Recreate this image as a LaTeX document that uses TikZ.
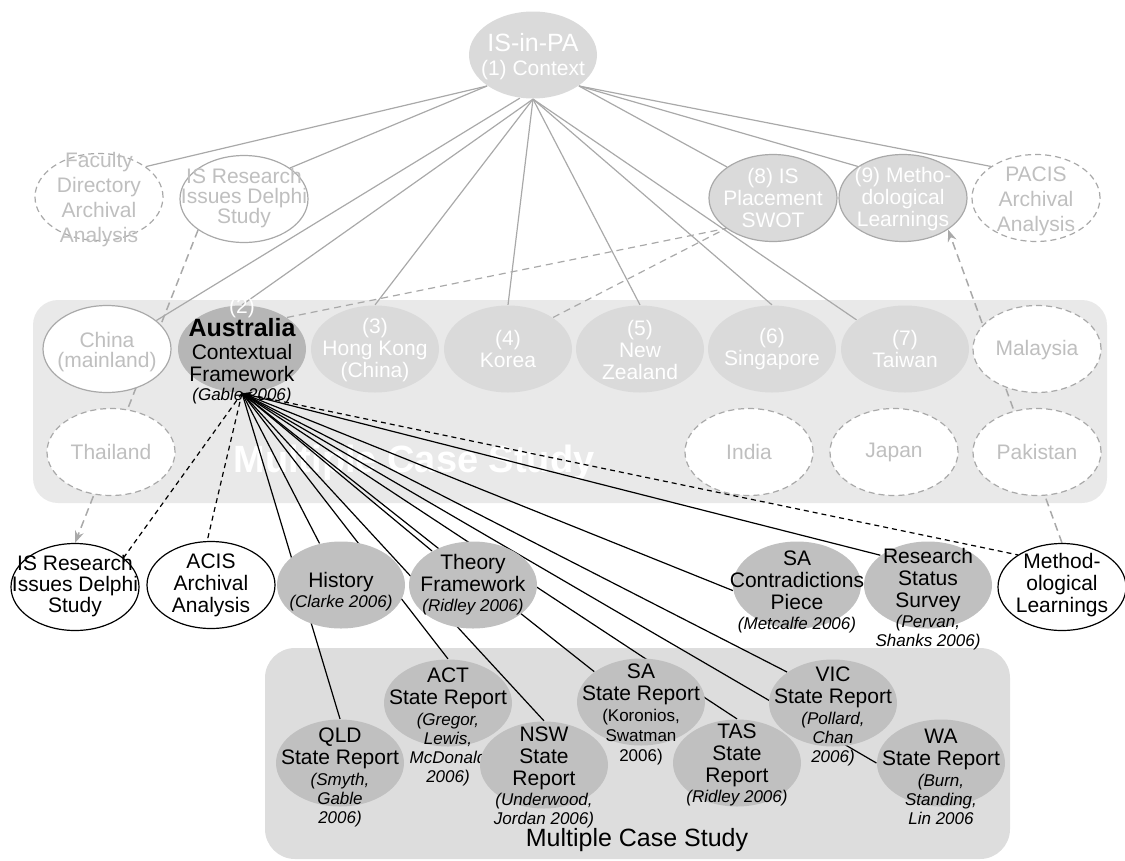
\documentclass[tikz,border=0pt]{standalone}
\usepackage{fontspec}
\setmainfont{Liberation Sans}
\usetikzlibrary{arrows.meta,shapes.geometric}
\pgfdeclarelayer{bg}
\pgfdeclarelayer{edges}
\pgfsetlayers{bg,edges,main}
\definecolor{lgray}{HTML}{A9A9A9}
\definecolor{tgray}{HTML}{BFBFBF}
\definecolor{bandA}{HTML}{E9E9E9}
\definecolor{bandB}{HTML}{DDDDDD}
\definecolor{fillA}{HTML}{DADADA}
\definecolor{fillB}{HTML}{C0C0C0}
\newcommand\cit[1]{{\fontsize{17}{18}\selectfont\itshape #1}}
\begin{document}
\begin{tikzpicture}[x=1pt,y=-1pt,
  el/.style={ellipse, minimum width=128pt, minimum height=87pt, inner sep=0pt, line width=1.2pt},
  ghost/.style={el, draw=lgray, dash pattern=on 6pt off 4pt, fill=white},
  pale/.style={el, draw=lgray, fill=white},
  soft/.style={el, fill=fillA},
  softb/.style={el, fill=fillA, draw=lgray},
  dark/.style={el, fill=fillB},
  wht/.style={el, draw=black, fill=white},
  tx/.style={align=center, inner sep=0pt, font=\fontsize{21}{22}\selectfont},
  gtx/.style={tx, text=tgray},
  wtx/.style={tx, text=white},
  gline/.style={draw=lgray, line width=1.2pt},
  gdashln/.style={draw=lgray, line width=1.2pt, dash pattern=on 7pt off 5pt},
  gdash/.style={draw=lgray, line width=1.5pt, dash pattern=on 8pt off 5pt, -{Stealth[length=12pt,width=9pt]}},
  bline/.style={draw=black, line width=1.2pt},
  bdash/.style={draw=black, line width=1.2pt, dash pattern=on 5pt off 4pt},
]
\useasboundingbox (0,0) rectangle (1125,860);
\begin{pgfonlayer}{bg}
\fill[bandA, rounded corners=25pt] (33,300) rectangle (1107,503);
\fill[bandB, rounded corners=30pt] (265,648) rectangle (1010,859);
\node[font=\fontsize{38}{38}\selectfont\bfseries, text=white, inner sep=0pt] (mcs1) at (414,463) {Multiple Case Study};
\node[font=\fontsize{25}{25}\selectfont, inner sep=0pt] (mcs2) at (637,840) {Multiple Case Study};
\end{pgfonlayer}

% ---- top
\node[el, fill=fillA] (isinpa) at (533,55) {};
\node[wtx] (isinpa-t) at (533,57) {{\fontsize{25}{25}\selectfont IS-in-PA}\\[2pt](1) Context};
\node[ghost] (faculty) at (99,197) {};
\node[gtx] (faculty-t) at (99,200) {Faculty\\[3pt]Directory\\[3pt]Archival\\[3pt]Analysis};
\node[pale] (isres1) at (244,199) {};
\node[gtx] (isres1-t) at (244,198) {IS Research\\[-2pt]Issues Delphi\\[-2pt]Study};
\node[softb] (ip8) at (773,198) {};
\node[wtx] (ip8-t) at (773,198) {(8) IS\\Placement\\SWOT};
\node[softb] (ip9) at (903,198) {};
\node[wtx] (ip9-t) at (903,199) {(9) Metho-\\dological\\Learnings};
\node[ghost] (pacis) at (1036,198) {};
\node[gtx] (pacis-t) at (1036,201) {PACIS\\[3pt]Archival\\[3pt]Analysis};

% ---- row 1
\node[pale] (china) at (107,349) {};
\node[gtx] (china-t) at (107,352) {China\\[-2pt](mainland)};
\node[dark, fill=fillB!95!black] (aus) at (242,349) {};
\node[tx] (aus-t) at (242,351) {\textcolor{white}{(2)}\\{\fontsize{25}{25}\selectfont\bfseries Australia}\\[1pt]Contextual\\Framework\\[-3pt]\cit{(Gable 2006)}};
\node[soft] (hk) at (375,349) {};
\node[wtx] (hk-t) at (375,350) {(3)\\Hong Kong\\(China)};
\node[soft] (korea) at (508,349) {};
\node[wtx] (korea-t) at (508,349) {(4)\\Korea};
\node[soft] (nz) at (640,349) {};
\node[wtx] (nz-t) at (640,350) {(5)\\New\\Zealand};
\node[soft] (sing) at (772,349) {};
\node[wtx] (sing-t) at (772,349) {(6)\\Singapore};
\node[soft] (taiwan) at (905,349) {};
\node[wtx] (taiwan-t) at (905,349) {(7)\\Taiwan};
\node[ghost] (malaysia) at (1037,349) {};
\node[gtx] (malaysia-t) at (1037,350) {Malaysia};

% ---- row 2
\node[ghost] (thailand) at (111,452) {};
\node[gtx] (thailand-t) at (111,452) {Thailand};
\node[ghost] (india) at (749,452) {};
\node[gtx] (india-t) at (749,452) {India};
\node[ghost] (japan) at (894,452) {};
\node[gtx] (japan-t) at (894,452) {Japan};
\node[ghost] (pakistan) at (1037,452) {};
\node[gtx] (pakistan-t) at (1037,452) {Pakistan};

% ---- lower row
\node[wht] (isres2) at (75,587) {};
\node[tx] (isres2-t) at (75,586) {IS Research\\[-1pt]Issues Delphi\\[-1pt]Study};
\node[wht] (acis) at (211,585) {};
\node[tx] (acis-t) at (211,585) {ACIS\\Archival\\Analysis};
\node[dark] (history) at (341,585) {};
\node[tx] (history-t) at (341,592) {History\\[-2pt]\cit{(Clarke 2006)}};
\node[dark] (theory) at (473,585) {};
\node[tx] (theory-t) at (473,585) {Theory\\Framework\\[-2pt]\cit{(Ridley 2006)}};
\node[dark] (sacontr) at (797,585) {};
\node[tx] (sacontr-t) at (797,592) {SA\\Contradictions\\Piece\\[-2pt]\cit{(Metcalfe 2006)}};
\node[dark] (rss) at (928,585) {};
\node[tx] (rss-t) at (928,599) {Research\\Status\\Survey\\[-2pt]\cit{(Pervan,}\\[-3pt]\cit{Shanks 2006)}};
\node[wht] (methl) at (1062,587) {};
\node[tx] (methl-t) at (1062,585) {Method-\\ological\\Learnings};

% ---- bottom band
\node[dark] (qld) at (340,763) {};
\node[tx] (qld-t) at (340,777) {QLD\\State Report\\[-1pt]\cit{(Smyth,}\\[-3pt]\cit{Gable}\\[-3pt]\cit{2006)}};
\node[dark] (act) at (448,703) {};
\node[tx] (act-t) at (448,727) {ACT\\State Report\\[-1pt]\cit{(Gregor,}\\[-3pt]\cit{Lewis,}\\[-3pt]\cit{McDonald}\\[-3pt]\cit{2006)}};
\node[dark] (nsw) at (544,765) {};
\node[tx] (nsw-t) at (544,777) {NSW\\State\\Report\\[-2pt]\cit{(Underwood,}\\[-3pt]\cit{Jordan 2006)}};
\node[dark] (sast) at (641,702) {};
\node[tx] (sast-t) at (641,714) {SA\\State Report\\[-1pt]{\fontsize{17}{18}\selectfont (Koronios,}\\[-2pt]{\fontsize{17}{18}\selectfont Swatman}\\[-2pt]{\fontsize{17}{18}\selectfont 2006)}};
\node[dark] (tas) at (737,763) {};
\node[tx] (tas-t) at (737,765) {TAS\\State\\Report\\[-2pt]\cit{(Ridley 2006)}};
\node[dark] (vic) at (833,703) {};
\node[tx] (vic-t) at (833,716) {VIC\\State Report\\[-1pt]\cit{(Pollard,}\\[-3pt]\cit{Chan}\\[-3pt]\cit{2006)}};
\node[dark] (wa) at (941,763) {};
\node[tx] (wa-t) at (941,777) {WA\\State Report\\[-1pt]\cit{(Burn,}\\[-3pt]\cit{Standing,}\\[-3pt]\cit{Lin 2006}};

\begin{pgfonlayer}{edges}
\draw[gline] (isinpa.214) -- (faculty.33);
\draw[gline] (isinpa.214) -- (isres1.34);
\draw[gline] (isinpa.253) -- (china.30);
\draw[gline] (isinpa.south) -- (aus.north);
\draw[gline] (isinpa.south) -- (hk.north);
\draw[gline] (isinpa.south) -- (korea.north);
\draw[gline] (isinpa.south) -- (nz.north);
\draw[gline] (isinpa.south) -- (sing.north);
\draw[gline] (isinpa.south) -- (taiwan.149);
\draw[gline] (isinpa.326) -- (ip8.146);
\draw[gline] (isinpa.326) -- (ip9.145);
\draw[gline] (isinpa.326) -- (pacis.145);
\draw[gdashln] (aus.35) -- (ip8.213);
\draw[gdashln] (korea.35) -- (ip8.213);
\draw[gdash] (isres1.214) -- (isres2.north);
\draw[gdash] (methl.north) -- (ip9.325);
\draw[bdash] (aus.south) -- (isres2.31);
\draw[bdash] (aus.south) -- (acis.95);
\draw[bline] (aus.south) -- (qld.north);
\draw[bline] (aus.south) -- (history);
\draw[bline] (aus.south) -- (act.north);
\draw[bline] (aus.south) -- (nsw.north);
\draw[bline] (aus.south) -- (theory);
\draw[bline] (aus.south) -- (sast.147);
\draw[bline] (aus.south) -- (tas.north);
\draw[bline] (aus.south) -- (vic.146);
\draw[bline] (aus.south) -- (wa.west);
\draw[bline] (aus.south) -- (sacontr.185);
\draw[bline] (aus.south) -- (rss.148);
\draw[bdash, {Stealth[length=11pt,width=8pt]}-] (aus.south) -- (methl.144);
\end{pgfonlayer}
\end{tikzpicture}
\end{document}
